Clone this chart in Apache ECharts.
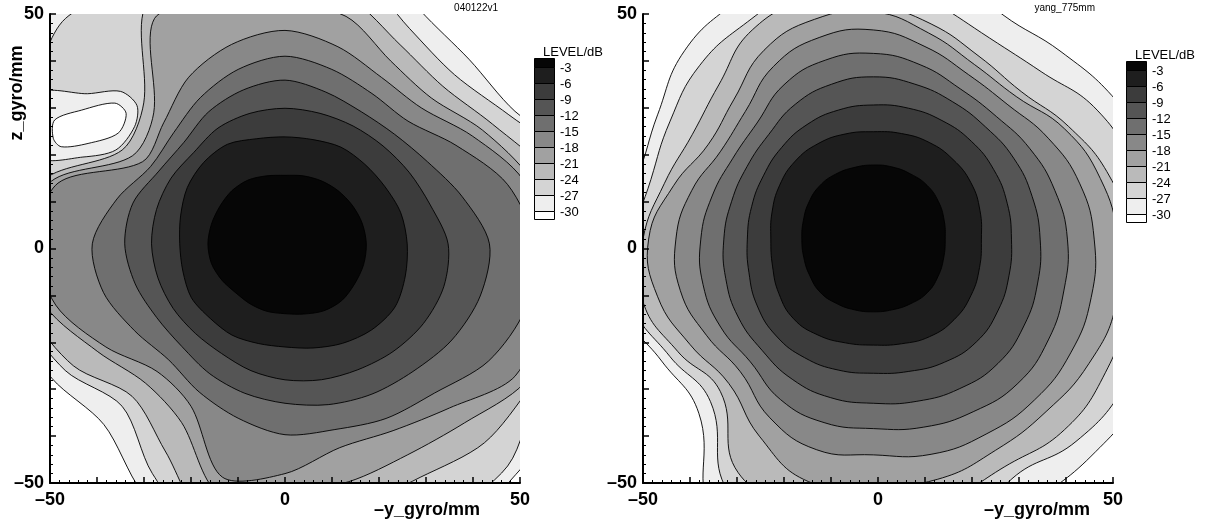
<!DOCTYPE html>
<html>
<head>
<meta charset="utf-8">
<title>LEVEL/dB</title>
<script src="https://cdn.jsdelivr.net/npm/echarts@6/dist/echarts.min.js"></script>
<style>
html, body { margin: 0; padding: 0; background: #ffffff; }
#chart { width: 1206px; height: 524px; }
</style>
</head>
<body>
<div id="chart"></div>
<script>
// Contour levels (dB) and the grey of the band lying above each level; the last grey is below -30 dB.
const levels = [-3, -6, -9, -12, -15, -18, -21, -24, -27, -30];
const levelLabels = ['-3', '-6', '-9', '-12', '-15', '-18', '-21', '-24', '-27', '-30'];
const bandGreys = ['#060606', '#1e1e1e', '#3c3c3c', '#555555', '#6f6f6f', '#888888', '#a1a1a1', '#bababa', '#d4d4d4', '#eeeeee', '#ffffff'];

// Axis range (mm) and the ticks that carry a label.
const axisRange = [-50, 50];
const labelledTicks = [-50, 0, 50];

// Directions (deg, counter-clockwise from +y_gyro) along which each contour radius is given.
const rayAngles = [0, 15, 30, 45, 60, 75, 90, 105, 120, 135, 150, 165, 180, 195, 210, 225, 240, 255, 270, 285, 300, 315, 330, 345];

// Measured map 040122v1: beam centre (mm) and contour radius (mm) per direction.
const measCentre = [0, 1];
const measRing3  = [17.3, 17, 16.5, 16, 15.5, 15, 14.6, 15, 15.7, 16, 16, 16.2, 16.4, 16.2, 15.5, 14.8, 14.8, 14.9, 14.9, 15.5, 16.5, 17.1, 17.1, 17.3];
const measRing6  = [26, 25.5, 24.5, 24, 23.8, 23, 22.8, 23.2, 24.5, 24.5, 24, 23, 22.4, 22.5, 23, 22.5, 22.5, 22, 22, 23, 24.5, 26, 27, 26.5];
const measRing9  = [34.7, 32, 30.5, 29.5, 29, 28.8, 28.9, 28.8, 28.5, 27.5, 28, 28.3, 28.4, 28, 27.5, 27, 27, 28, 29, 30, 31, 32.5, 34, 35];
const measRing12 = [43.5, 39, 35, 33, 32.5, 33.5, 34.9, 34, 32.5, 30.5, 31, 33.5, 34.1, 33, 31.5, 31, 32, 33, 34, 35.5, 37, 38.5, 41, 43];
const measRing15 = [53, 49, 42, 37, 37, 38.5, 40, 38.5, 36, 33.5, 33, 37, 41, 40, 37, 35, 36.5, 38.5, 40.7, 41, 43, 45, 50, 53];
const measRing18 = [55, 52.5, 46, 41, 41, 43.5, 45.5, 44, 41, 36.5, 35, 50, 53, 50.5, 44, 38.5, 40, 51.5, 49, 45, 46, 49.5, 56.5, 56];
const measRing21 = [58, 54, 48.5, 44, 45, 50.2, 51, 53, 55.5, 39.5, 37.5, 51.5, 56, 52.5, 46, 42, 44, 55, 53, 52.5, 52, 54, 59, 60];
const measRing24 = [64, 58, 51, 47.5, 49, 54, 56, 58, 59, 42.5, 40, 53, 57, 56, 52, 46, 51, 62, 58, 58, 57.5, 60, 60.5, 64];
const measRing27 = [70, 64, 55, 51, 53, 60, 64, 66, 64, 67, 62, 58, 58, 57.5, 54, 49, 56.5, 65, 64, 66, 67, 67, 62.5, 68];
const measRing30 = [74, 66, 56.5, 55.5, 57.5, 66, 72, 75, 76, 75, 72, 68, 64, 60, 57.3, 54.5, 61, 68, 70, 72, 72, 69.5, 70, 72];

// Closed low pockets of the measured map (outline points in mm, with the level that bounds them).
const measPocketLevels = [-27, -30];
const measPocket27 = [[-52, 33], [-42, 33], [-35, 33.5], [-31.5, 30.5], [-32, 26], [-36, 21], [-43, 19.5], [-52, 19.5]];
const measPocket30 = [[-49, 27.4], [-43.3, 29.5], [-36.2, 31], [-33.8, 28.8], [-35.5, 24.6], [-41.9, 22.4], [-47.6, 21.7], [-49.3, 23.5]];

// Computed map yang_775mm: beam centre (mm) and contour radius (mm) per direction.
const yangCentre = [-1, 2];
const yangRing3  = [15.3, 15.6, 16, 16.2, 16, 15.9, 15.8, 15.8, 16, 16.1, 15.8, 15.4, 15.2, 15.3, 15.6, 16, 15.8, 15.6, 15.5, 15.6, 15.9, 16.2, 15.9, 15.5];
const yangRing6  = [23, 23.5, 24, 24, 23.8, 23.3, 22.9, 23.2, 23.5, 23.5, 23, 22.3, 21.8, 22.2, 23.2, 24, 23.6, 22.9, 22.6, 23.1, 24, 24.3, 24, 23.4];
const yangRing9  = [29.4, 29.5, 29.6, 29.5, 29.2, 28.9, 28.6, 28.5, 28.2, 27.6, 27, 26.8, 26.8, 27.4, 28.5, 29.2, 29.2, 28.9, 28.6, 29.2, 30.3, 31, 30.6, 29.9];
const yangRing12 = [35.5, 35, 34.5, 33.8, 33.8, 34.2, 34.6, 34.2, 33.2, 31.5, 31, 31.2, 31.8, 32.5, 33.2, 33.5, 34.5, 35, 35, 35.8, 36.8, 37.5, 37, 36.2];
const yangRing15 = [41.3, 40, 38.5, 37, 37, 38.5, 39.6, 39.5, 38, 35, 34.5, 35.5, 36.7, 37.5, 37.5, 37, 39.5, 40.5, 40.4, 41.5, 42.5, 43.5, 43, 42];
const yangRing18 = [47, 45.5, 43, 40.5, 40.5, 42.5, 44.6, 44.5, 42.5, 38.5, 37.5, 40, 42, 42.5, 41, 40, 44, 46.5, 46, 47.5, 48, 48.5, 48.5, 48];
const yangRing21 = [52, 50, 47, 43, 43, 45.5, 48.5, 48.5, 46.5, 42, 40.5, 44, 47.8, 47.5, 45, 43.5, 48.5, 53.5, 52.5, 53, 52, 52, 53, 53.5];
const yangRing24 = [55, 52, 48, 44.5, 45, 47.5, 50, 52.5, 51.5, 46.5, 44.5, 46, 49, 50.8, 48, 46, 57.5, 59, 60, 58, 56, 57.5, 57, 56];
const yangRing27 = [60, 57.5, 55, 50.5, 49.5, 52, 58, 56, 53.5, 52.3, 50, 49, 51, 53, 50, 49, 62, 66, 68, 68, 59, 61, 62, 62];
const yangRing30 = [66, 63, 59.5, 56.5, 55.2, 60, 64, 62, 58.5, 56.8, 53, 52, 57, 56, 52, 52.5, 68, 70, 72, 72, 66, 65.5, 66, 66];

const FONT = "'Liberation Sans', Arial, Helvetica, sans-serif";

const measRings = [measRing3, measRing6, measRing9, measRing12, measRing15, measRing18, measRing21, measRing24, measRing27, measRing30];
const yangRings = [yangRing3, yangRing6, yangRing9, yangRing12, yangRing15, yangRing18, yangRing21, yangRing24, yangRing27, yangRing30];

// Outline of one contour in data units (mm), from its radii about the centre.
function ringOutline(centre, radii) {
  return radii.map(function (r, k) {
    const a = rayAngles[k] * Math.PI / 180;
    return [centre[0] + r * Math.cos(a), centre[1] + r * Math.sin(a)];
  });
}

// Filled regions painted from the outermost level inwards, then the low pockets on top.
function contourShapes(centre, rings, pockets) {
  const shapes = [];
  for (let i = rings.length - 1; i >= 0; i--) {
    shapes.push({ pts: ringOutline(centre, rings[i]), fill: bandGreys[i] });
  }
  pockets.forEach(function (p) {
    shapes.push({ pts: p.pts, fill: bandGreys[levels.indexOf(p.level) + 1] });
  });
  return shapes;
}

const measShapes = contourShapes(measCentre, measRings, [
  { level: measPocketLevels[0], pts: measPocket27 },
  { level: measPocketLevels[1], pts: measPocket30 }
]);
const yangShapes = contourShapes(yangCentre, yangRings, []);

function contourSeries(gridIndex, shapes, smooth) {
  return {
    type: 'custom',
    coordinateSystem: 'cartesian2d',
    xAxisIndex: gridIndex,
    yAxisIndex: gridIndex,
    clip: true,
    silent: true,
    animation: false,
    z: 1,
    data: shapes.map(function (s, i) { return [0, 0, i]; }),
    encode: { x: 0, y: 1 },
    renderItem: function (params, api) {
      const s = shapes[params.dataIndex];
      return {
        type: 'polygon',
        shape: { points: s.pts.map(function (p) { return api.coord(p); }), smooth: smooth },
        style: { fill: s.fill, stroke: '#000000', lineWidth: 0.9 }
      };
    }
  };
}

function tickText(v) {
  if (labelledTicks.indexOf(v) < 0) return '';
  return v < 0 ? '\u2013' + Math.abs(v) : String(v);
}

function axisFor(kind, gridIndex) {
  return {
    gridIndex: gridIndex,
    type: 'value',
    min: axisRange[0],
    max: axisRange[1],
    interval: 10,
    position: kind === 'x' ? 'bottom' : 'left',
    z: 5,
    axisLine: { show: true, onZero: false, lineStyle: { color: '#000000', width: 2 } },
    axisTick: { show: true, inside: true, length: 6, lineStyle: { color: '#000000', width: 1.5 } },
    minorTick: { show: true, splitNumber: 5, length: 3, lineStyle: { color: '#000000', width: 1 } },
    splitLine: { show: false },
    minorSplitLine: { show: false },
    axisLabel: {
      show: true,
      margin: kind === 'x' ? 8 : 6,
      formatter: tickText,
      color: '#000000',
      fontFamily: FONT,
      fontSize: 18,
      fontWeight: 'bold',
      showMinLabel: true,
      showMaxLabel: true,
      hideOverlap: false
    }
  };
}

function textEl(x, y, text, size, weight, align, vAlign, rotation) {
  return {
    type: 'text',
    x: x,
    y: y,
    rotation: rotation || 0,
    silent: true,
    z: 10,
    style: {
      text: text,
      fill: '#000000',
      font: weight + ' ' + size + 'px ' + FONT,
      align: align, textAlign: align,
      verticalAlign: vAlign, textVerticalAlign: vAlign
    }
  };
}

// Level key: a column of grey swatches with each level written at the border between two swatches.
function levelKey(x, top, firstEdge, bottom) {
  const els = [];
  const edges = [top];
  levels.forEach(function (_, k) { edges.push(firstEdge + 16 * k); });
  edges.push(bottom);
  for (let b = 0; b < bandGreys.length; b++) {
    els.push({
      type: 'rect',
      silent: true,
      z: 10,
      shape: { x: x + 0.5, y: edges[b] + 0.5, width: 20, height: edges[b + 1] - edges[b] },
      style: { fill: bandGreys[b], stroke: '#000000', lineWidth: 1 }
    });
  }
  levelLabels.forEach(function (t, k) {
    els.push(textEl(x + 26, edges[k + 1] + 1, t, 13, 'normal', 'left', 'middle'));
  });
  els.push(textEl(x + 9, top - 6, 'LEVEL/dB', 13, 'normal', 'left', 'middle'));
  return els;
}

const chart = echarts.init(document.getElementById('chart'), null, { renderer: 'canvas' });

chart.setOption({
  backgroundColor: '#ffffff',
  animation: false,
  grid: [
    { left: 50, top: 14, width: 470, height: 469, outerBoundsMode: 'none' },
    { left: 643, top: 14, width: 470, height: 469, outerBoundsMode: 'none' }
  ],
  xAxis: [axisFor('x', 0), axisFor('x', 1)],
  yAxis: [axisFor('y', 0), axisFor('y', 1)],
  series: [
    contourSeries(0, measShapes, 0.3),
    contourSeries(1, yangShapes, 0.45)
  ],
  graphic: [].concat(
    [
      textEl(498, 8, '040122v1', 10, 'normal', 'right', 'middle'),
      textEl(1095, 8, 'yang_775mm', 10, 'normal', 'right', 'middle'),
      textEl(17, 93, 'z_gyro/mm', 18, 'bold', 'center', 'middle', Math.PI / 2),
      textEl(427, 510, '\u2013y_gyro/mm', 18, 'bold', 'center', 'middle'),
      textEl(1037, 510, '\u2013y_gyro/mm', 18, 'bold', 'center', 'middle')
    ],
    levelKey(534, 58, 67, 219),
    levelKey(1126, 61, 70, 222)
  )
});
</script>
</body>
</html>
